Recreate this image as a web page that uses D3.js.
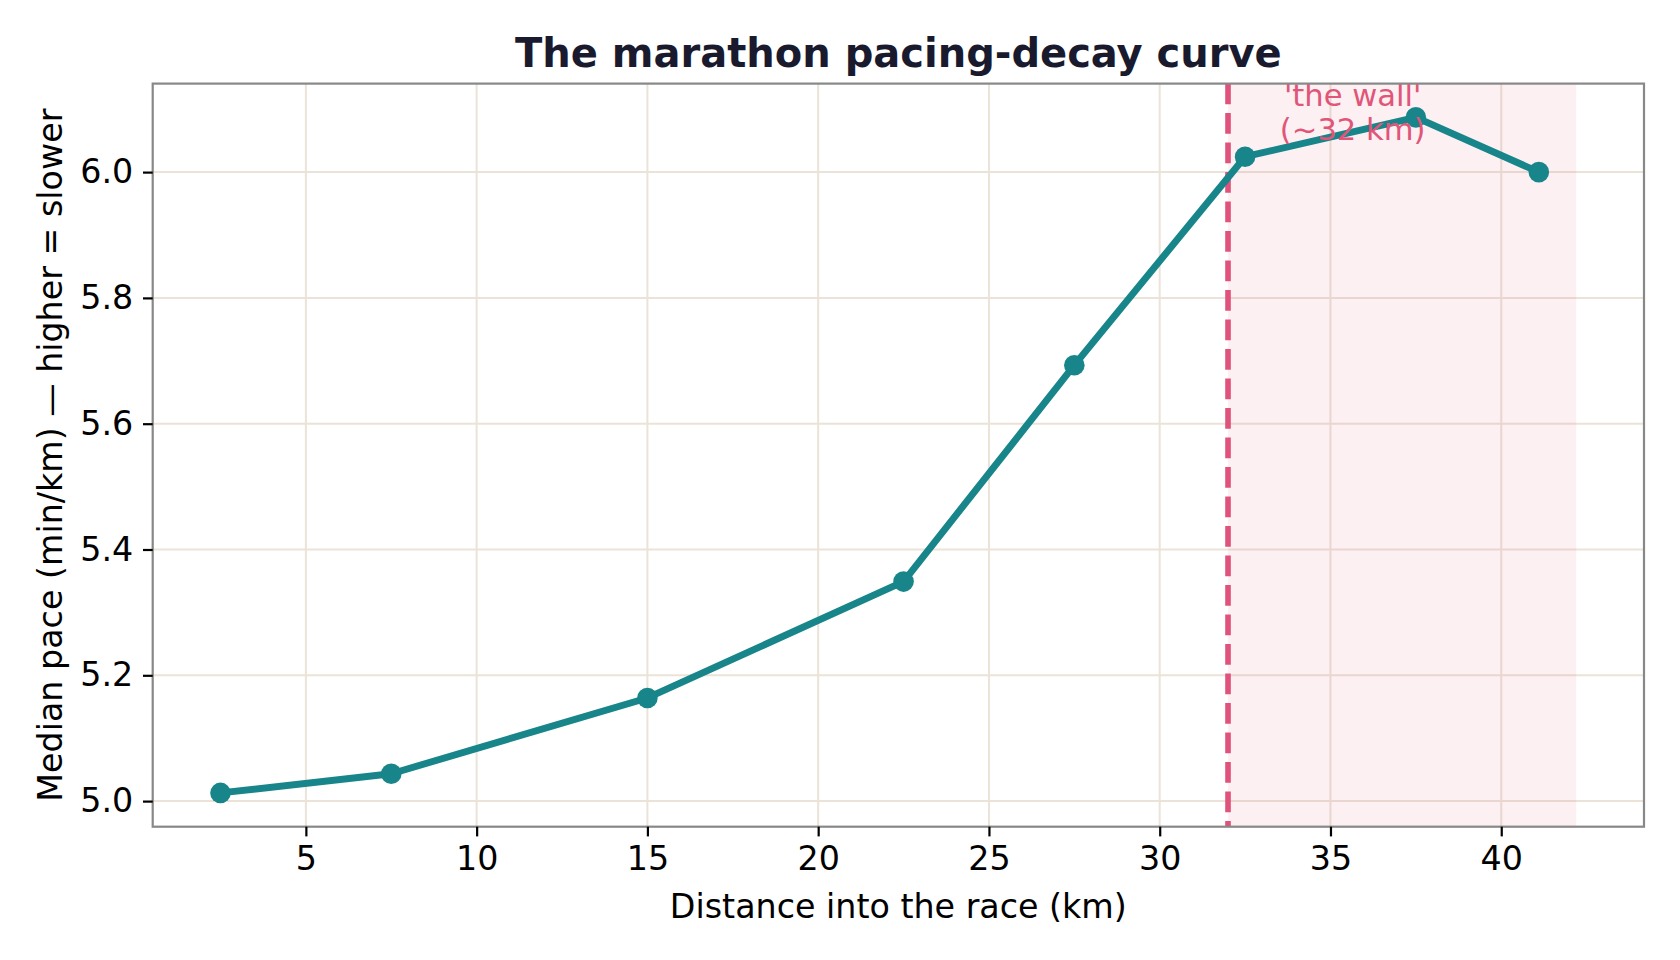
<!DOCTYPE html>
<html>
<head>
<meta charset="utf-8">
<script src="https://cdn.jsdelivr.net/npm/d3@7"></script>
<style>
  body { margin: 0; background: #fff; }
  svg { display: block; font-family: "DejaVu Sans", sans-serif; }
</style>
</head>
<body>
<div id="chart"></div>
<script>
// Marathon pacing-decay curve: median pace by distance segment

const distances = [2.5, 7.5, 15, 22.5, 27.5, 32.5, 37.5, 41.1];
const medianPace = [5.013, 5.0435, 5.164, 5.349, 5.693, 6.0245, 6.087, 6.0];
const xTicks = [5, 10, 15, 20, 25, 30, 35, 40];
const yTicks = [5.0, 5.2, 5.4, 5.6, 5.8, 6.0];
const wallKm = 32;
const finishKm = 42.195;
const wallLabel = ["'the wall'", "(~32 km)"];

const data = distances.map((d, i) => ({ km: d, pace: medianPace[i] }));

const width = 1680;
const height = 960;
const margin = { top: 83.6, right: 36, bottom: 133.3, left: 152.7 };

const svg = d3
  .select("#chart")
  .append("svg")
  .attr("width", width)
  .attr("height", height);

// --- Scales (matplotlib style 5% padding) ---
const xMin = d3.min(distances), xMax = Math.max(d3.max(distances), finishKm);
const xPad = (xMax - xMin) * 0.05;
const x = d3
  .scaleLinear()
  .domain([xMin - xPad, xMax + xPad])
  .range([margin.left, width - margin.right]);

const yMin = d3.min(medianPace), yMax = d3.max(medianPace);
const yPad = (yMax - yMin) * 0.05;
const y = d3
  .scaleLinear()
  .domain([yMin - yPad, yMax + yPad])
  .range([height - margin.bottom, margin.top]);

const plotTop = margin.top;
const plotBottom = height - margin.bottom;

// --- Grid ---
const grid = svg.append("g").attr("stroke", "#ebe3d7").attr("stroke-width", 2);
grid
  .selectAll("line.vx")
  .data(xTicks)
  .enter()
  .append("line")
  .attr("x1", d => x(d))
  .attr("x2", d => x(d))
  .attr("y1", plotTop)
  .attr("y2", plotBottom);
grid
  .selectAll("line.hy")
  .data(yTicks)
  .enter()
  .append("line")
  .attr("x1", margin.left)
  .attr("x2", width - margin.right)
  .attr("y1", d => y(d))
  .attr("y2", d => y(d));

// --- "The wall" shading and marker line ---
svg
  .append("rect")
  .attr("x", x(wallKm))
  .attr("y", plotTop)
  .attr("width", x(finishKm) - x(wallKm))
  .attr("height", plotBottom - plotTop)
  .attr("fill", "#e05578")
  .attr("opacity", 0.085);

svg
  .append("line")
  .attr("x1", x(wallKm))
  .attr("x2", x(wallKm))
  .attr("y1", plotTop)
  .attr("y2", plotBottom)
  .attr("stroke", "#e0527c")
  .attr("stroke-width", 5.6)
  .attr("stroke-dasharray", "20.6,8.9");

// --- Pace line + markers ---
const line = d3
  .line()
  .x(d => x(d.km))
  .y(d => y(d.pace));

svg
  .append("path")
  .datum(data)
  .attr("d", line)
  .attr("fill", "none")
  .attr("stroke", "#178589")
  .attr("stroke-width", 6.9)
  .attr("stroke-linejoin", "round");

svg
  .selectAll("circle.pt")
  .data(data)
  .enter()
  .append("circle")
  .attr("cx", d => x(d.km))
  .attr("cy", d => y(d.pace))
  .attr("r", 10.3)
  .attr("fill", "#178589");

// --- Annotation ---
const note = svg
  .append("text")
  .attr("x", x(35.65))
  .attr("text-anchor", "middle")
  .attr("fill", "#e05578")
  .attr("font-size", 30.6);
note
  .selectAll("tspan")
  .data(wallLabel)
  .enter()
  .append("tspan")
  .attr("x", x(35.65))
  .attr("y", (d, i) => 106 + i * 34)
  .text(d => d);

// --- Frame ---
svg
  .append("rect")
  .attr("x", margin.left)
  .attr("y", plotTop)
  .attr("width", width - margin.right - margin.left)
  .attr("height", plotBottom - plotTop)
  .attr("fill", "none")
  .attr("stroke", "#888")
  .attr("stroke-width", 2.2);

// --- Axes ---
const xAxis = svg
  .append("g")
  .attr("transform", `translate(0,${plotBottom})`)
  .call(
    d3.axisBottom(x)
      .tickValues(xTicks)
      .tickFormat(d3.format("d"))
      .tickSize(9.7)
      .tickPadding(9.7)
  );

const yAxis = svg
  .append("g")
  .attr("transform", `translate(${margin.left},0)`)
  .call(
    d3.axisLeft(y)
      .tickValues(yTicks)
      .tickFormat(d3.format(".1f"))
      .tickSize(9.7)
      .tickPadding(9.7)
  );

[xAxis, yAxis].forEach(g => {
  g.select(".domain").remove();
  g.selectAll(".tick line").attr("stroke", "#000").attr("stroke-width", 2.2);
  g.selectAll(".tick text")
    .attr("fill", "#000")
    .attr("font-size", 33.3)
    .attr("font-family", "DejaVu Sans");
});
xAxis.selectAll(".tick text").attr("dy", "0.72em");

// --- Labels ---
svg
  .append("text")
  .attr("x", (margin.left + width - margin.right) / 2)
  .attr("y", 67)
  .attr("text-anchor", "middle")
  .attr("font-size", 40)
  .attr("font-weight", "bold")
  .attr("fill", "#1a1a2e")
  .text("The marathon pacing-decay curve");

svg
  .append("text")
  .attr("x", (margin.left + width - margin.right) / 2)
  .attr("y", 918)
  .attr("text-anchor", "middle")
  .attr("font-size", 33.3)
  .attr("fill", "#000")
  .text("Distance into the race (km)");

svg
  .append("text")
  .attr("transform", `translate(62,${(plotTop + plotBottom) / 2}) rotate(-90)`)
  .attr("text-anchor", "middle")
  .attr("font-size", 33.3)
  .attr("fill", "#000")
  .text("Median pace (min/km) — higher = slower");
</script>
</body>
</html>
